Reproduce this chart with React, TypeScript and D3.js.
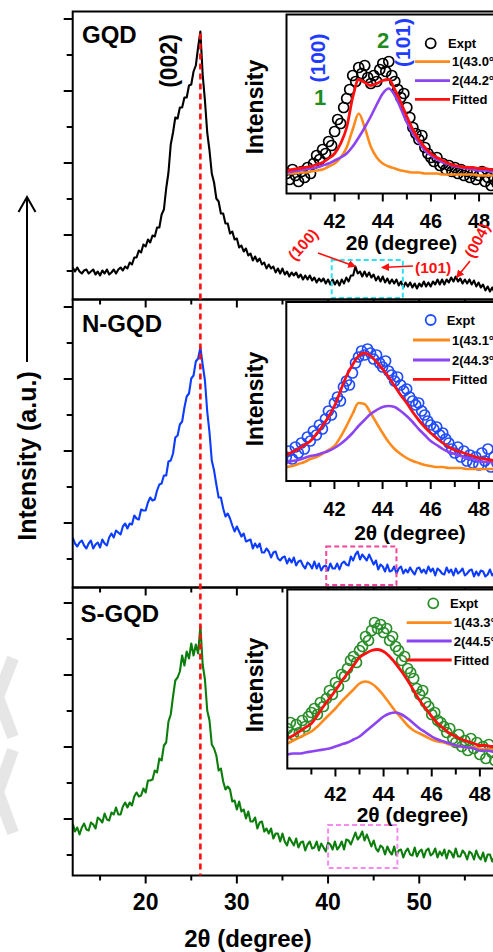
import React from "react";
import * as d3 from "d3";

// ---------- XRD scans, 2θ = 12° … 60°, step 0.25° (intensity, a.u.) ----------
const scanStart = 12;
const scanStep = 0.25;

const gqdScan = [
  32, 28, 32, 28, 26, 29, 30, 26, 28, 30, 25, 28, 24, 29, 26, 30,
  25, 27, 30, 26, 30, 32, 29, 33, 31, 37, 35, 42, 42, 49, 47, 55,
  53, 60, 57, 64, 63, 72, 72, 85, 90, 111, 127, 155, 167, 182, 181, 192,
  192, 202, 202, 214, 215, 228, 234, 252, 268, 225, 199, 167, 149, 126, 117, 101,
  98, 86, 86, 76, 76, 66, 68, 60, 61, 52, 54, 48, 51, 44, 46, 39,
  43, 38, 41, 35, 37, 31, 35, 31, 33, 27, 31, 26, 31, 25, 28, 23,
  27, 24, 27, 22, 25, 20, 24, 20, 24, 19, 22, 17, 21, 18, 21, 16,
  20, 15, 20, 15, 19, 14, 20, 16, 22, 18, 24, 24, 33, 26, 28, 23,
  28, 23, 27, 22, 25, 19, 23, 18, 23, 17, 21, 16, 20, 16, 20, 14,
  18, 12, 17, 13, 17, 12, 16, 11, 16, 13, 18, 13, 17, 13, 18, 15,
  20, 15, 20, 15, 20, 17, 22, 18, 23, 18, 21, 16, 20, 16, 20, 15,
  19, 13, 17, 12, 15, 9, 13, 8, 12, 7, 11, 7, 10, 6, 10, 6,
  9,
];

const nGqdScan = [
  50, 44, 41, 45, 47, 42, 39, 44, 47, 39, 43, 45, 40, 48, 44, 42,
  50, 54, 50, 57, 55, 53, 61, 64, 59, 64, 63, 72, 69, 68, 78, 77,
  77, 85, 90, 87, 88, 97, 103, 104, 112, 112, 126, 127, 134, 150, 152, 163,
  166, 180, 191, 194, 209, 212, 226, 229, 240, 223, 207, 176, 155, 127, 117, 103,
  90, 90, 79, 71, 74, 69, 62, 56, 61, 56, 51, 54, 46, 47, 48, 39,
  44, 40, 44, 35, 35, 39, 36, 30, 35, 36, 29, 27, 30, 31, 24, 29,
  25, 30, 22, 26, 27, 22, 19, 25, 23, 19, 26, 19, 24, 17, 21, 22,
  17, 24, 19, 19, 24, 18, 24, 26, 23, 22, 31, 27, 33, 36, 28, 33,
  30, 27, 33, 28, 23, 27, 18, 23, 21, 16, 23, 16, 17, 21, 14, 19,
  21, 14, 18, 15, 20, 16, 13, 19, 20, 15, 18, 14, 21, 16, 19, 12,
  19, 17, 14, 13, 20, 15, 18, 12, 19, 14, 16, 19, 12, 14, 17, 18,
  11, 16, 12, 17, 16, 11, 13, 18, 12, 15, 10, 16, 15, 12, 10, 17,
  13,
];

const sGqdScan = [
  52, 44, 48, 41, 48, 52, 46, 45, 53, 51, 47, 58, 56, 53, 62, 56,
  55, 63, 61, 68, 61, 61, 69, 73, 68, 73, 70, 79, 83, 79, 80, 87,
  83, 95, 95, 96, 105, 103, 117, 115, 130, 133, 154, 161, 179, 195, 198, 204,
  220, 210, 224, 217, 232, 220, 231, 222, 250, 211, 196, 165, 155, 131, 127, 120,
  105, 107, 94, 86, 89, 86, 74, 75, 66, 74, 64, 66, 57, 64, 54, 54,
  58, 47, 53, 54, 44, 47, 42, 47, 37, 42, 42, 34, 42, 34, 30, 38,
  34, 30, 37, 28, 33, 34, 25, 31, 34, 27, 28, 34, 25, 32, 28, 24,
  33, 31, 26, 34, 26, 29, 34, 26, 36, 35, 31, 37, 43, 36, 39, 44,
  35, 41, 35, 29, 35, 27, 24, 30, 28, 21, 29, 24, 21, 29, 20, 25,
  26, 18, 24, 27, 21, 20, 28, 19, 24, 26, 18, 25, 27, 20, 22, 27,
  18, 24, 20, 26, 17, 25, 23, 18, 27, 19, 19, 25, 22, 16, 24, 22,
  16, 25, 19, 16, 23, 14, 21, 21, 14, 19, 23, 15, 15, 21, 12, 20,
  17,
];

// ---------- (100)/(101) window, experimental points 40° … 50°, step 0.125° ----------
const exptStart = 40;
const exptStep = 0.125;

const gqdExpt = [
  20, 14, 24, 18, 12, 22, 16, 26, 20, 30, 38, 34, 44, 40, 52, 48,
  62, 74, 70, 86, 95, 104, 118, 112, 126, 120, 128, 116, 110, 118, 112, 124,
  130, 122, 132, 118, 112, 104, 96, 100, 86, 76, 66, 60, 54, 58, 46, 40,
  36, 32, 36, 28, 30, 24, 28, 22, 26, 20, 24, 18, 22, 16, 20, 14,
  18, 22, 12, 16, 8, 14, 10, 16, 12, 8, 14, 10, 12, 8, 14, 10,
  12,
];
const nGqdExpt = [
  24, 30, 22, 34, 28, 38, 32, 44, 40, 50, 46, 56, 52, 62, 70, 66,
  78, 84, 80, 94, 100, 96, 108, 118, 124, 130, 126, 132, 128, 122, 126, 118,
  114, 120, 110, 106, 100, 104, 96, 90, 92, 84, 80, 76, 78, 70, 66, 60,
  56, 52, 54, 46, 48, 42, 38, 32, 28, 34, 24, 30, 20, 26, 18, 24,
  16, 28, 20, 32, 14, 24, 18, 12, 20, 14, 18, 12, 16, 10, 14, 12,
  16,
];
const sGqdExpt = [
  40, 46, 34, 44, 36, 48, 42, 52, 56, 60, 54, 66, 62, 70, 78, 74,
  86, 82, 94, 92, 100, 108, 112, 106, 118, 122, 132, 128, 138, 146, 140, 144,
  136, 140, 128, 132, 122, 118, 108, 112, 100, 96, 90, 80, 74, 78, 66, 62,
  54, 56, 48, 46, 42, 36, 40, 30, 26, 34, 22, 28, 18, 30, 20, 26,
  14, 22, 10, 24, 16, 8, 18, 12, 20, 10, 16, 12, 18, 10, 14, 8,
  12,
];

// ---------- peak deconvolution, 40° … 50°, step 0.25° ----------
const fitStart = 40;
const fitStep = 0.25;

const gqdPeak1 = [20, 20, 21, 21, 22, 23, 24, 27, 30, 36, 46, 64, 80, 66, 47, 36, 30, 27, 25, 23, 22, 21, 21, 20, 20, 20, 19, 19, 19, 19, 19, 19, 18, 18, 18, 18, 18, 18, 18, 18, 18];
const gqdPeak2 = [21, 22, 23, 24, 25, 26, 28, 30, 33, 36, 40, 47, 56, 66, 77, 89, 100, 105, 98, 85, 71, 60, 51, 43, 38, 34, 31, 29, 27, 26, 25, 24, 23, 23, 22, 22, 21, 21, 21, 20, 20];
const gqdFit = [23, 24, 25, 26, 27, 29, 31, 35, 40, 50, 66, 96, 114, 111, 108, 110, 113, 114, 104, 91, 77, 64, 54, 46, 40, 36, 33, 30, 28, 27, 26, 26, 25, 25, 24, 24, 23, 23, 23, 22, 22];

const nGqdPeak1 = [14, 15, 17, 19, 22, 24, 27, 31, 35, 44, 55, 67, 78, 77, 68, 58, 48, 39, 32, 27, 23, 20, 18, 16, 15, 14, 14, 13, 13, 13, 12, 12, 12, 12, 12, 12, 11, 11, 11, 11, 11];
const nGqdPeak2 = [18, 20, 21, 23, 25, 26, 28, 30, 33, 37, 42, 48, 55, 61, 67, 71, 74, 75, 74, 70, 65, 59, 52, 46, 40, 36, 32, 29, 27, 25, 23, 22, 20, 19, 19, 18, 17, 17, 16, 16, 15];
const nGqdFit = [26, 29, 32, 36, 40, 47, 55, 64, 75, 90, 105, 116, 125, 128, 125, 119, 112, 104, 95, 86, 78, 69, 61, 54, 48, 43, 38, 34, 31, 29, 27, 25, 23, 22, 21, 20, 19, 19, 18, 18, 17];

const sGqdPeak1 = [25, 28, 31, 34, 37, 42, 48, 54, 60, 67, 73, 79, 85, 87, 85, 80, 73, 65, 57, 50, 43, 38, 35, 32, 29, 27, 26, 24, 23, 22, 21, 21, 20, 19, 19, 18, 18, 17, 17, 17, 16];
const sGqdPeak2 = [14, 15, 15, 16, 17, 18, 19, 20, 22, 24, 26, 29, 32, 37, 42, 47, 52, 55, 56, 54, 50, 45, 40, 36, 32, 29, 27, 25, 23, 22, 21, 20, 18, 18, 17, 16, 16, 15, 15, 15, 14];
const sGqdFit = [30, 33, 37, 41, 45, 53, 62, 70, 78, 87, 95, 103, 111, 115, 118, 119, 117, 112, 105, 97, 88, 78, 68, 60, 52, 45, 40, 35, 32, 29, 27, 25, 23, 23, 22, 22, 21, 21, 20, 20, 20];

// ---------- labels and ticks ----------
const sampleNames = ["GQD", "N-GQD", "S-GQD"];
const peak1Labels = ["1(43.0°)", "1(43.1°)", "1(43.3°)"];
const peak2Labels = ["2(44.2°)", "2(44.3°)", "2(44.5°)"];
const mainMajorTicks = [20, 30, 40, 50, 60];
const mainMinorTicks = [15, 25, 35, 45, 55];
const insetMajorTicks = [42, 44, 46, 48, 50];
const insetMinorTicks = [41, 43, 45, 47, 49];
const graphitePosition = 26; // (002) reflection
// boxed (100)/(101) window per sample: [2θ from, 2θ to, intensity from, intensity to]
const zoomWindows = [
  [40.4, 48.2, 1.5, 39.5],
  [39.8, 47.5, 2.5, 41],
  [40.0, 47.6, 7.5, 50.5],
];

const scans = [gqdScan, nGqdScan, sGqdScan];
const expts = [gqdExpt, nGqdExpt, sGqdExpt];
const peak1s = [gqdPeak1, nGqdPeak1, sGqdPeak1];
const peak2s = [gqdPeak2, nGqdPeak2, sGqdPeak2];
const fits = [gqdFit, nGqdFit, sGqdFit];

// ---------- layout & style ----------
const W = 493;
const H = 952;
const FONT = "'Liberation Sans', Arial, Helvetica, sans-serif";
const plotLeft = 72.7;
const degPx = 9.12;
const panelTops = [11.5, 299.5, 587.5];
const panelH = 288;
const yTickStart = [28.5, 28.5, 20.5];
const yTickStep = 36;

const traceColors = ["#000000", "#0b3cff", "#0a7d0a"];
const exptColors = ["#000000", "#1f4cff", "#2a8f2a"];
const boxColors = ["#2fe2f2", "#f2479c", "#f78af2"];
const ORANGE = "#ff8a1c";
const PURPLE = "#8c43f2";
const RED = "#ff1010";

const insetLeft = [286.5, 286.3, 287.3];
const insetTop = [14.5, 302, 589.5];
const insetH = 179;
const insetDegPx = 24.07;
const insetTickLabelY = [34.2, 34.8, 32];
const insetTitle = [
  { x: 401.5, y: 250 },
  { x: 410, y: 539.5 },
  { x: 412.5, y: 821.5 },
];
const insetYLabel = [107, 399, 685];
const legendPos = [
  { cx: 430.7, cy: 43.3, tx: 448, rows: [61.7, 80.7, 99.3], x0: 415, x1: 450 },
  { cx: 430.7, cy: 320, tx: 446.7, rows: [340, 360, 379.3], x0: 413, x1: 450 },
  { cx: 433.3, cy: 603.3, tx: 450, rows: [622.7, 641, 660], x0: 406.7, x1: 451.7 },
];
const panelLabelPos = [
  { x: 82, y: 43 },
  { x: 82, y: 331.7 },
  { x: 80.5, y: 621.7 },
];

const pts = (values: number[], start: number, step: number) =>
  values.map((v, i) => [start + i * step, v] as [number, number]);

export default function App() {
  const xMain = d3.scaleLinear().domain([12, 60]).range([plotLeft, plotLeft + 48 * degPx]);
  const yPanel = (p: number) =>
    d3.scaleLinear().domain([0, panelH]).range([panelTops[p] + panelH, panelTops[p]]);

  const bold = { fontFamily: FONT, fontWeight: 700 } as const;

  const panels = scans.map((scan, p) => {
    const y = yPanel(p);
    const top = panelTops[p];
    const bottom = top + panelH;
    const line = d3
      .line<[number, number]>()
      .x((d) => xMain(d[0]))
      .y((d) => y(d[1]));
    const yTicks = d3.range(yTickStart[p], panelH, yTickStep);
    const [b0, b1, h0, h1] = zoomWindows[p];
    return (
      <g key={"panel" + p}>
        <clipPath id={"clipP" + p}>
          <rect x={plotLeft} y={top} width={W} height={panelH} />
        </clipPath>
        <path
          d={line(pts(scan, scanStart, scanStep)) || ""}
          fill="none"
          stroke={traceColors[p]}
          strokeWidth={2.1}
          strokeLinejoin="round"
          clipPath={`url(#clipP${p})`}
        />
        <rect
          x={xMain(b0)}
          y={y(h1)}
          width={xMain(b1) - xMain(b0)}
          height={y(h0) - y(h1)}
          fill="none"
          stroke={boxColors[p]}
          strokeWidth={2}
          strokeDasharray="5,3"
        />
        <rect x={plotLeft} y={top} width={W} height={panelH} fill="none" stroke="#000" strokeWidth={2} />
        {yTicks.map((t, k) => (
          <line
            key={"yt" + k}
            x1={plotLeft}
            x2={plotLeft - (k % 2 === 1 ? 9 : 6)}
            y1={y(t)}
            y2={y(t)}
            stroke="#000"
            strokeWidth={2}
          />
        ))}
        {mainMajorTicks.map((t) => (
          <line key={"xM" + t} x1={xMain(t)} x2={xMain(t)} y1={bottom} y2={bottom + 8} stroke="#000" strokeWidth={2} />
        ))}
        {mainMinorTicks.map((t) => (
          <line key={"xm" + t} x1={xMain(t)} x2={xMain(t)} y1={bottom} y2={bottom + 5} stroke="#000" strokeWidth={2} />
        ))}
        <text x={panelLabelPos[p].x} y={panelLabelPos[p].y} fontSize={24} {...bold}>
          {sampleNames[p]}
        </text>
      </g>
    );
  });

  const insets = scans.map((_, p) => {
    const left = insetLeft[p];
    const top = insetTop[p];
    const bottom = top + insetH;
    const xi = d3.scaleLinear().domain([40, 50]).range([left, left + 10 * insetDegPx]);
    const yi = d3.scaleLinear().domain([0, insetH]).range([bottom, top]);
    const curve = d3
      .line<[number, number]>()
      .x((d) => xi(d[0]))
      .y((d) => yi(d[1]))
      .curve(d3.curveMonotoneX);
    const lg = legendPos[p];
    return (
      <g key={"inset" + p}>
        <clipPath id={"clipI" + p}>
          <rect x={left} y={top} width={W} height={insetH} />
        </clipPath>
        <rect x={left} y={top} width={W} height={insetH} fill="#fff" />
        <g clipPath={`url(#clipI${p})`}>
          {pts(expts[p], exptStart, exptStep).map((d, i) => (
            <circle
              key={"e" + i}
              cx={xi(d[0])}
              cy={yi(d[1])}
              r={5}
              fill="none"
              stroke={exptColors[p]}
              strokeWidth={1.7}
            />
          ))}
          <path d={curve(pts(peak1s[p], fitStart, fitStep)) || ""} fill="none" stroke={ORANGE} strokeWidth={2.6} />
          <path d={curve(pts(peak2s[p], fitStart, fitStep)) || ""} fill="none" stroke={PURPLE} strokeWidth={2.6} />
          <path d={curve(pts(fits[p], fitStart, fitStep)) || ""} fill="none" stroke={RED} strokeWidth={2.8} />
        </g>
        <rect x={left} y={top} width={W} height={insetH} fill="none" stroke="#000" strokeWidth={2} />
        {insetMajorTicks.map((t) => (
          <g key={"iM" + t}>
            <line x1={xi(t)} x2={xi(t)} y1={bottom} y2={bottom + 8} stroke="#000" strokeWidth={2} />
            <text x={xi(t)} y={bottom + insetTickLabelY[p]} fontSize={20} textAnchor="middle" {...bold}>
              {t}
            </text>
          </g>
        ))}
        {insetMinorTicks.map((t) => (
          <line key={"im" + t} x1={xi(t)} x2={xi(t)} y1={bottom} y2={bottom + 6} stroke="#000" strokeWidth={2} />
        ))}
        <text x={insetTitle[p].x} y={insetTitle[p].y} fontSize={21} textAnchor="middle" {...bold}>
          2θ (degree)
        </text>
        <text
          transform={`translate(263,${insetYLabel[p]}) rotate(-90)`}
          fontSize={23}
          textAnchor="middle"
          {...bold}
        >
          Intensity
        </text>
        {/* legend */}
        <circle cx={lg.cx} cy={lg.cy} r={5} fill="none" stroke={exptColors[p]} strokeWidth={1.8} />
        <text x={lg.tx} y={lg.cy + 4.5} fontSize={13} {...bold}>
          Expt
        </text>
        {[ORANGE, PURPLE, RED].map((c, k) => (
          <g key={"lg" + k}>
            <line x1={lg.x0} x2={lg.x1} y1={lg.rows[k]} y2={lg.rows[k]} stroke={c} strokeWidth={2.8} />
            <text x={lg.x1 + 2} y={lg.rows[k] + 4.5} fontSize={13} {...bold}>
              {[peak1Labels[p], peak2Labels[p], "Fitted"][k]}
            </text>
          </g>
        ))}
      </g>
    );
  });

  // GQD reflection markers
  const y0 = yPanel(0);
  const tip100: [number, number] = [xMain(43.0), y0(33)];
  const tip101: [number, number] = [xMain(45.9), y0(32)];
  const tip004: [number, number] = [xMain(54.1), y0(22)];

  return (
    <svg
      width={W}
      height={H}
      viewBox={`0 0 ${W} ${H}`}
      style={{ position: "absolute", left: 0, top: 0, background: "#fff" }}
    >
      <defs>
        <marker id="redHead" viewBox="0 0 10 10" refX={9} refY={5} markerWidth={5} markerHeight={5} orient="auto">
          <path d="M0,0 L10,5 L0,10 z" fill={RED} />
        </marker>
      </defs>
      <rect width={W} height={H} fill="#fff" />

      {/* faint watermark chevrons */}
      <path d="M13,658 L-2,697 L13,737" fill="none" stroke="#e6e6e6" strokeWidth={12} />
      <path d="M13,750 L-2,792 L13,833" fill="none" stroke="#e6e6e6" strokeWidth={12} />

      {panels}
      {insets}

      {/* (002) reference line */}
      <line
        x1={xMain(graphitePosition)}
        x2={xMain(graphitePosition)}
        y1={y0(266)}
        y2={panelTops[2] + panelH}
        stroke={RED}
        strokeWidth={2.6}
        strokeDasharray="6,4"
      />

      <text transform="translate(177,61) rotate(-90)" fontSize={23} textAnchor="middle" {...bold}>
        (002)
      </text>

      {/* inset peak assignments (GQD) */}
      <text transform="translate(325,58) rotate(-90)" fontSize={21} textAnchor="middle" fill="#1f3cff" {...bold}>
        (100)
      </text>
      <text transform="translate(410,42.5) rotate(-90)" fontSize={21} textAnchor="middle" fill="#1f3cff" {...bold}>
        (101)
      </text>
      <text x={320} y={105} fontSize={22} textAnchor="middle" fill="#1e8c1e" {...bold}>
        1
      </text>
      <text x={383} y={48} fontSize={22} textAnchor="middle" fill="#1e8c1e" {...bold}>
        2
      </text>

      {/* reflection labels on the GQD scan */}
      <text transform="translate(307,248) rotate(-48)" fontSize={15.5} textAnchor="middle" fill={RED} {...bold}>
        (100)
      </text>
      <line x1={318} y1={253} x2={tip100[0]} y2={tip100[1]} stroke={RED} strokeWidth={1.6} markerEnd="url(#redHead)" />
      <text x={415} y={272.5} fontSize={15.5} fill={RED} {...bold}>
        (101)
      </text>
      <line x1={413} y1={266} x2={tip101[0]} y2={tip101[1]} stroke={RED} strokeWidth={1.6} markerEnd="url(#redHead)" />
      <text transform="translate(482,243) rotate(-62)" fontSize={15.5} textAnchor="middle" fill={RED} {...bold}>
        (004)
      </text>
      <line x1={470} y1={261} x2={tip004[0]} y2={tip004[1]} stroke={RED} strokeWidth={1.6} markerEnd="url(#redHead)" />

      {/* bottom axis labels */}
      {mainMajorTicks.map((t) => (
        <text key={"xl" + t} x={xMain(t)} y={910} fontSize={23} textAnchor="middle" {...bold}>
          {t}
        </text>
      ))}
      <text x={248} y={947} fontSize={24} textAnchor="middle" {...bold}>
        2θ (degree)
      </text>

      {/* intensity axis title with arrow */}
      <text transform="translate(36,456) rotate(-90)" fontSize={25} textAnchor="middle" {...bold}>
        Intensity (a.u.)
      </text>
      <line x1={27} x2={27} y1={362} y2={197} stroke="#000" strokeWidth={2} />
      <path d="M18.5,212 L27,197 L35.5,212" fill="none" stroke="#000" strokeWidth={2} />
    </svg>
  );
}
